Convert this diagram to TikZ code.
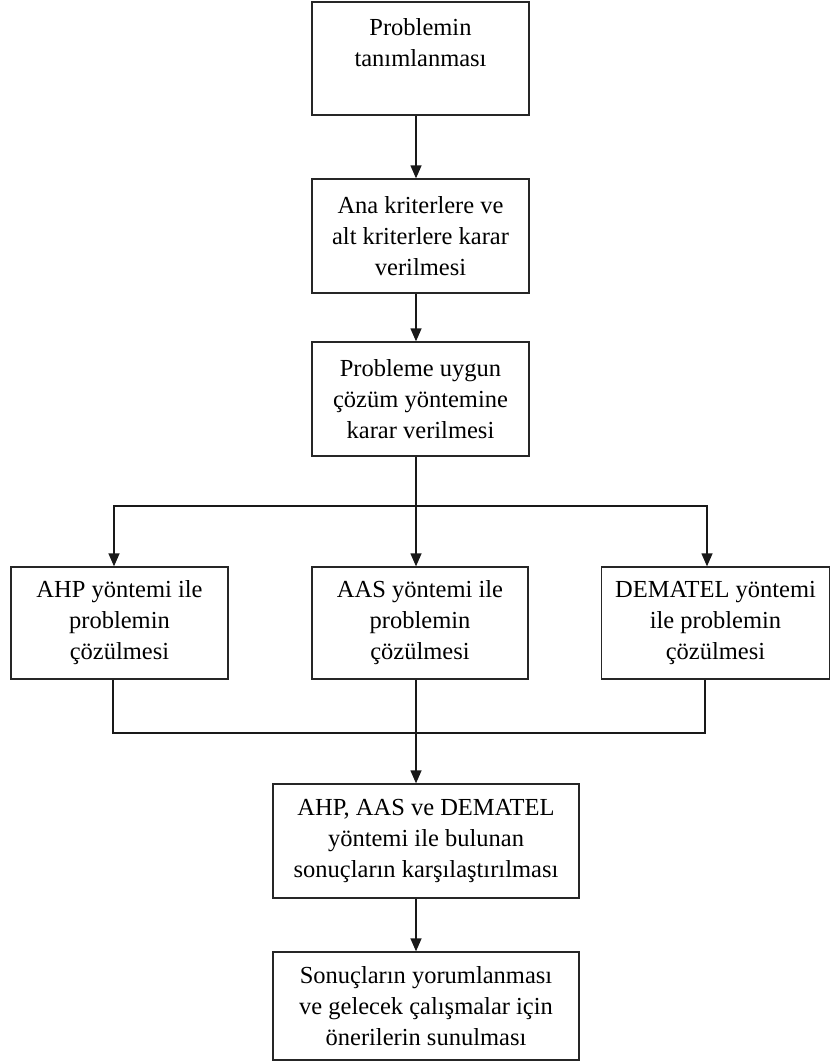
\documentclass[tikz,border=0pt]{standalone}
\usepackage{fontspec}
\setmainfont{Liberation Serif}
\usetikzlibrary{arrows.meta}
\begin{document}
\begin{tikzpicture}[x=1pt,y=-1pt,
  stepbox/.style={draw=black!85, line width=1.3pt, fill=white, align=center,
    inner sep=0pt, font=\fontsize{24.5}{31}\selectfont},
  conn/.style={draw=black!90, line width=1.3pt},
  arr/.style={conn, -{Triangle[width=11pt,length=13pt]}}]
\useasboundingbox (0,0) rectangle (831,1062);
% boxes
\node[stepbox, minimum width=217pt, minimum height=113pt] (b1) at (420.5,58.5) {Problemin\\tanımlanması\\\mbox{}};
\node[stepbox, minimum width=217pt, minimum height=114pt] (b2) at (420.5,236) {Ana kriterlere ve\\alt kriterlere karar\\verilmesi};
\node[stepbox, minimum width=217pt, minimum height=114pt] (b3) at (420.5,399) {Probleme uygun\\çözüm yöntemine\\karar verilmesi};
\node[stepbox, minimum width=217pt, minimum height=112pt] (ahp) at (119.5,623) {AHP yöntemi ile\\problemin\\çözülmesi};
\node[stepbox, minimum width=216pt, minimum height=112pt] (aas) at (420,623) {AAS yöntemi ile\\problemin\\çözülmesi};
\node[stepbox, minimum width=228pt, minimum height=112pt] (dem) at (715.5,623) {DEMATEL yöntemi\\ile problemin\\çözülmesi};
\node[stepbox, minimum width=306pt, minimum height=114pt] (b5) at (426,841) {AHP, AAS ve DEMATEL\\yöntemi ile bulunan\\sonuçların karşılaştırılması};
\node[stepbox, minimum width=306pt, minimum height=108pt] (b6) at (426,1006) {Sonuçların yorumlanması\\ve gelecek çalışmalar için\\önerilerin sunulması};
% helper coordinates
\coordinate (sp) at (416,0);
\coordinate (fork) at (416,506);
\coordinate (join) at (416,733);
\coordinate (ahpin) at (114,0);
\coordinate (demin) at (707,0);
\coordinate (ahpout) at (113,0);
\coordinate (demout) at (705,0);
% connectors
\draw[arr] (b1.south -| sp) -- (b2.north -| sp);
\draw[arr] (b2.south -| sp) -- (b3.north -| sp);
\draw[conn] (b3.south -| sp) -- (fork);
\draw[arr] (fork) -- (aas.north -| fork);
\draw[arr] (fork) -| (ahp.north -| ahpin);
\draw[arr] (fork) -| (dem.north -| demin);
\draw[conn] (ahp.south -| ahpout) |- (join);
\draw[conn] (dem.south -| demout) |- (join);
\draw[conn] (aas.south -| join) -- (join);
\draw[arr] (join) -- (b5.north -| join);
\draw[arr] (b5.south -| sp) -- (b6.north -| sp);
\end{tikzpicture}
\end{document}
